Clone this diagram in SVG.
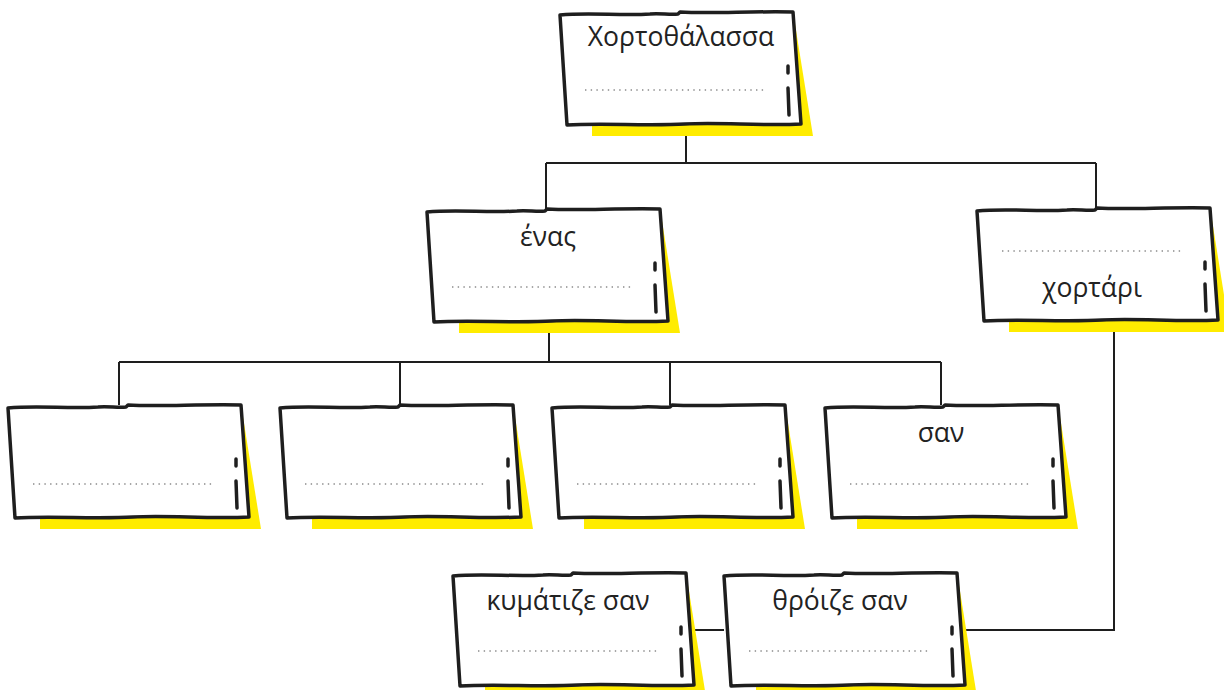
<svg xmlns="http://www.w3.org/2000/svg" xmlns:xlink="http://www.w3.org/1999/xlink" width="1224" height="690" viewBox="0 0 1224 690">
<style>
.box{fill:#fff;stroke:#1e1e1e;stroke-width:3.5;stroke-linejoin:round}
.sh{fill:#ffec00}
.mk{stroke:#1e1e1e;stroke-width:3.5;stroke-linecap:round}
.dot{stroke:#8a8a8a;stroke-width:1.4;stroke-dasharray:1.4 4.3;fill:none}
.conn{stroke:#1e1e1e;stroke-width:2;fill:none}
.t{font-family:"Open Sans","Liberation Sans",sans-serif;font-size:26.5px;fill:#222;text-anchor:middle}
</style>
<defs>
<g id="card">
<polygon class="sh" points="32,12 235,12 253,124 32,124"/>
<path class="box" d="M0,3 C30,0 60,4 90,2 C100,1 110,3 118,2 L120,0 C150,2 190,-1 233,0 L241,112 C200,114 160,110 125,112 C90,114 40,111 7,113 Z"/>
<line class="mk" x1="228" y1="54" x2="228" y2="61"/>
<line class="mk" x1="228" y1="76" x2="229" y2="103"/>
</g>
<line id="dl" class="dot" x1="25" y1="0" x2="207" y2="0"/>
</defs>
<g id="connectors">
<path class="conn" d="M686,124 V163 M546,163 H1096 M546,163 V209 M1096,163 V208"/>
<path class="conn" d="M549,323 V362 M119,362 H941 M119,362 V405 M400,362 V405 M670,362 V405 M941,362 V405"/>
<path class="conn" d="M688,630 H724 M966,630 H1114 V320"/>
</g>
<g id="n1" transform="translate(560,12)">
<use xlink:href="#card"/><use xlink:href="#dl" y="78"/>
<text class="t" x="121" y="34">Χορτοθάλασσα</text>
</g>
<g id="n2" transform="translate(427,209)">
<use xlink:href="#card"/><use xlink:href="#dl" y="78"/>
<text class="t" x="121" y="37">ένας</text>
</g>
<g id="n3" transform="translate(977,208)">
<use xlink:href="#card"/><use xlink:href="#dl" y="43"/>
<text class="t" x="115" y="89">χορτάρι</text>
</g>
<g id="n4" transform="translate(8,405)">
<use xlink:href="#card"/><use xlink:href="#dl" y="79"/>
</g>
<g id="n5" transform="translate(280,405)">
<use xlink:href="#card"/><use xlink:href="#dl" y="79"/>
</g>
<g id="n6" transform="translate(552,405)">
<use xlink:href="#card"/><use xlink:href="#dl" y="79"/>
</g>
<g id="n7" transform="translate(825,405)">
<use xlink:href="#card"/><use xlink:href="#dl" y="79"/>
<text class="t" x="116" y="37">σαν</text>
</g>
<g id="n8" transform="translate(453,573)">
<use xlink:href="#card"/><use xlink:href="#dl" y="78"/>
<text class="t" x="115" y="37">κυμάτιζε σαν</text>
</g>
<g id="n9" transform="translate(724,573)">
<use xlink:href="#card"/><use xlink:href="#dl" y="78"/>
<text class="t" x="116" y="37">θρόιζε σαν</text>
</g>
</svg>
